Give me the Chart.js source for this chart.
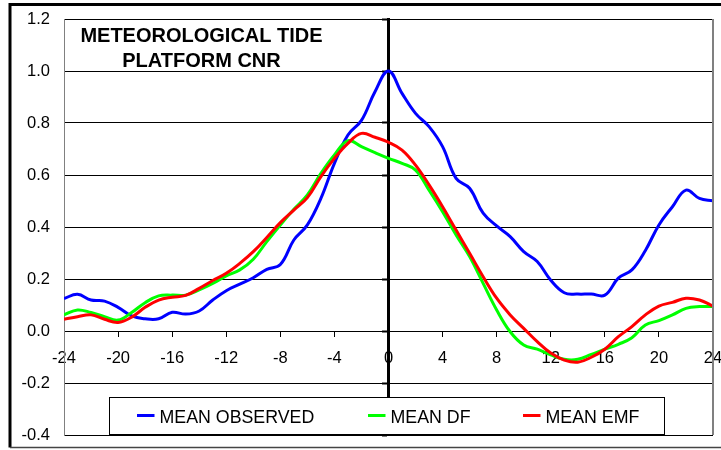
<!DOCTYPE html>
<html>
<head>
<meta charset="utf-8">
<script src="https://cdn.jsdelivr.net/npm/chart.js@4/dist/chart.umd.min.js"></script>
<style>
  html, body { margin: 0; padding: 0; background: #ffffff; }
  #wrap { width: 721px; height: 450px; position: relative; }
</style>
</head>
<body>
<div id="wrap"><canvas id="c" width="721" height="450"></canvas></div>
<script>
const hours = [-24,-23,-22,-21,-20,-19,-18,-17,-16,-15,-14,-13,-12,-11,-10,-9,-8,-7,-6,-5,-4,-3,-2,-1,0,1,2,3,4,5,6,7,8,9,10,11,12,13,14,15,16,17,18,19,20,21,22,23,24];
const meanObserved = [0.125,0.141,0.119,0.115,0.091,0.058,0.047,0.047,0.072,0.065,0.077,0.119,0.155,0.180,0.205,0.237,0.256,0.350,0.408,0.510,0.645,0.754,0.810,0.920,1.000,0.914,0.837,0.786,0.709,0.587,0.549,0.453,0.404,0.363,0.305,0.267,0.195,0.147,0.142,0.142,0.138,0.203,0.235,0.310,0.408,0.478,0.542,0.510,0.501];
const meanDF = [0.062,0.081,0.071,0.055,0.042,0.071,0.109,0.135,0.138,0.138,0.158,0.183,0.212,0.235,0.276,0.344,0.408,0.468,0.523,0.606,0.677,0.732,0.709,0.686,0.664,0.645,0.619,0.542,0.459,0.369,0.286,0.183,0.081,-0.003,-0.054,-0.070,-0.092,-0.109,-0.109,-0.090,-0.070,-0.051,-0.026,0.023,0.040,0.062,0.087,0.094,0.094];
const meanEMF = [0.045,0.055,0.062,0.045,0.033,0.053,0.091,0.119,0.130,0.137,0.164,0.194,0.222,0.260,0.305,0.360,0.417,0.465,0.513,0.594,0.664,0.722,0.760,0.745,0.726,0.696,0.638,0.562,0.478,0.388,0.299,0.209,0.126,0.062,0.010,-0.041,-0.085,-0.112,-0.120,-0.101,-0.070,-0.022,0.017,0.062,0.096,0.110,0.126,0.119,0.096];
const seriesNames = ['MEAN OBSERVED', 'MEAN DF', 'MEAN EMF'];
const seriesColors = ['#0000ff', '#00ff00', '#ff0000'];
const titleLines = ['METEOROLOGICAL TIDE', 'PLATFORM CNR'];

const FONT = "'Liberation Sans', Arial, Helvetica, sans-serif";

function pts(vals) { return hours.map((h, i) => ({ x: h, y: vals[i] })); }
function zeroPad(s) { s.paddingLeft = 0; s.paddingRight = 0; s.paddingTop = 0; s.paddingBottom = 0; }

const frameAndDecor = {
  id: 'frameAndDecor',
  beforeDraw(chart) {
    const ctx = chart.ctx;
    ctx.save();
    ctx.fillStyle = '#ffffff';
    ctx.fillRect(0, 0, chart.width, chart.height);
    ctx.restore();
  },
  afterDraw(chart) {
    const ctx = chart.ctx;
    const a = chart.chartArea;
    ctx.save();
    // right plot border
    ctx.strokeStyle = '#808080';
    ctx.lineWidth = 2;
    ctx.beginPath();
    ctx.moveTo(a.right, a.top);
    ctx.lineTo(a.right, a.bottom);
    ctx.stroke();
    // outer frame
    ctx.strokeStyle = '#000000';
    ctx.lineWidth = 3;
    ctx.beginPath();
    ctx.moveTo(chart.width + 5, 4.5);
    ctx.lineTo(10, 4.5);
    ctx.lineTo(10, 447.5);
    ctx.stroke();
    ctx.strokeStyle = '#444444';
    ctx.lineWidth = 1.5;
    ctx.beginPath();
    ctx.moveTo(10, 447.5);
    ctx.lineTo(chart.width + 5, 447.5);
    ctx.stroke();

    // title
    ctx.fillStyle = '#000000';
    ctx.font = 'bold 20px ' + FONT;
    ctx.textAlign = 'center';
    ctx.textBaseline = 'alphabetic';
    ctx.fillText(titleLines[0], 201.5, 42);
    ctx.fillText(titleLines[1], 201.5, 67);

    // legend box
    ctx.fillStyle = '#ffffff';
    ctx.fillRect(109.5, 397.5, 555, 37);
    ctx.strokeStyle = '#000000';
    ctx.lineWidth = 1;
    ctx.strokeRect(109.5, 397.5, 555, 37);
    const itemX = [137, 368, 523];
    ctx.font = '17.8px ' + FONT;
    ctx.textAlign = 'left';
    ctx.textBaseline = 'alphabetic';
    for (let i = 0; i < seriesNames.length; i++) {
      ctx.strokeStyle = seriesColors[i];
      ctx.lineWidth = 3;
      ctx.beginPath();
      ctx.moveTo(itemX[i], 415.5);
      ctx.lineTo(itemX[i] + 17.5, 415.5);
      ctx.stroke();
      ctx.fillStyle = '#000000';
      ctx.fillText(seriesNames[i], itemX[i] + 22.5, 423);
    }
    ctx.restore();
  }
};

const seriesValues = [meanObserved, meanDF, meanEMF];
const drawOrder = [2, 1, 0];

new Chart(document.getElementById('c'), {
  type: 'line',
  data: {
    datasets: seriesNames.map((name, i) => ({
      label: name,
      data: pts(seriesValues[i]),
      borderColor: seriesColors[i],
      backgroundColor: seriesColors[i],
      borderWidth: 3,
      pointRadius: 0,
      tension: 0.4,
      fill: false,
      order: drawOrder[i]
    }))
  },
  options: {
    responsive: false,
    animation: false,
    devicePixelRatio: 1,
    layout: { padding: { left: 0, right: 8, top: 19, bottom: 15 } },
    plugins: {
      legend: { display: false },
      title: { display: false },
      tooltip: { enabled: false }
    },
    scales: {
      x: {
        type: 'linear',
        min: -24, max: 24,
        position: { y: 0 },
        ticks: {
          stepSize: 4,
          color: '#000000',
          font: { family: FONT, size: 16.5 },
          padding: 13,
          maxRotation: 0,
          autoSkip: false
        },
        grid: { drawOnChartArea: false, drawTicks: true, tickLength: 5, color: '#000000', tickWidth: 1 },
        border: { display: true, color: '#000000', width: 1 },
        afterFit(s) { zeroPad(s); s.height = 0; }
      },
      y: {
        type: 'linear',
        min: -0.4, max: 1.2,
        position: 'left',
        ticks: {
          stepSize: 0.2,
          color: '#000000',
          font: { family: FONT, size: 16.5 },
          padding: 14,
          callback: v => Number(v).toFixed(1)
        },
        grid: { color: '#000000', lineWidth: 1, drawTicks: false },
        border: { display: true, color: '#808080', width: 1 },
        afterFit(s) { zeroPad(s); s.width = 64; }
      },
      y2: {
        type: 'linear',
        axis: 'y',
        min: -0.4, max: 1.2,
        position: { x: 0 },
        ticks: { display: false, stepSize: 0.2 },
        grid: { drawOnChartArea: false, drawTicks: true, tickLength: 5, tickWidth: 2, color: '#000000' },
        border: { display: true, color: '#000000', width: 3 },
        afterFit(s) { zeroPad(s); s.width = 0; }
      }
    }
  },
  plugins: [frameAndDecor]
});
</script>
</body>
</html>
